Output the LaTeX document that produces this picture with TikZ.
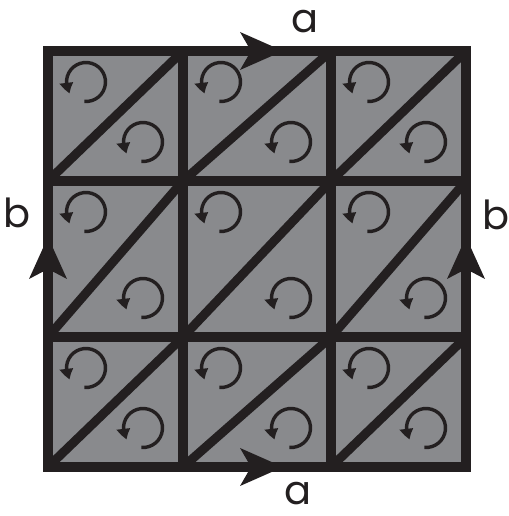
\documentclass[tikz,border=0pt]{standalone}
\usepackage{fontspec}
\setmainfont{Poppins}
\usetikzlibrary{arrows.meta,bending}
\definecolor{ink}{HTML}{231F20}
\definecolor{cellgray}{HTML}{898A8D}
\begin{document}
\begin{tikzpicture}[x=1pt,y=1pt,
  gridline/.style={draw=ink,line width=9.5pt},
  diagline/.style={draw=ink,line width=9pt},
  spin/.style={draw=ink,line width=3.4pt,-{Triangle[length=11pt,width=13pt,bend]}},
  edgearrow/.style={fill=ink},
  lbl/.style={font=\fontsize{40}{40}\selectfont,text=ink,inner sep=0pt}]
\useasboundingbox (0,0) rectangle (508,516);
\fill[cellgray] (48,49) rectangle (466,465);
% rotation arrows
\foreach \xa/\xb in {48/183,183/331,331/466}{
  \foreach \ya/\yb in {465/335,335/179,179/49}{
    \draw[spin] (\xa+38,\ya-31) ++(-95:19.5) arc[start angle=-95,end angle=215,radius=19.5];
    \draw[spin] (\xb-40,\yb+39) ++(-95:19.5) arc[start angle=-95,end angle=215,radius=19.5];
    \draw[diagline] (\xa,\yb) -- (\xb,\ya);
  }
}
% grid
\draw[gridline] (183,49) -- (183,465);
\draw[gridline] (331,49) -- (331,465);
\draw[gridline] (48,335) -- (466,335);
\draw[gridline] (48,179) -- (466,179);
\draw[gridline] (48,49) rectangle (466,465);
% edge arrows
\fill[edgearrow] (283,465) -- (240,484) -- (251,465) -- (240,446) -- cycle;
\fill[edgearrow] (283,49) -- (240,68) -- (251,49) -- (240,30) -- cycle;
\fill[edgearrow] (48,279) -- (29,237) -- (48,247) -- (67,237) -- cycle;
\fill[edgearrow] (466,279) -- (447,237) -- (466,247) -- (485,237) -- cycle;
% labels
\node[lbl] (atop) at (305,494) {a};
\node[lbl] (abot) at (298,22) {a};
\node[lbl] (bleft) at (17,303) {b};
\node[lbl] (bright) at (496,301) {b};
\end{tikzpicture}
\end{document}
